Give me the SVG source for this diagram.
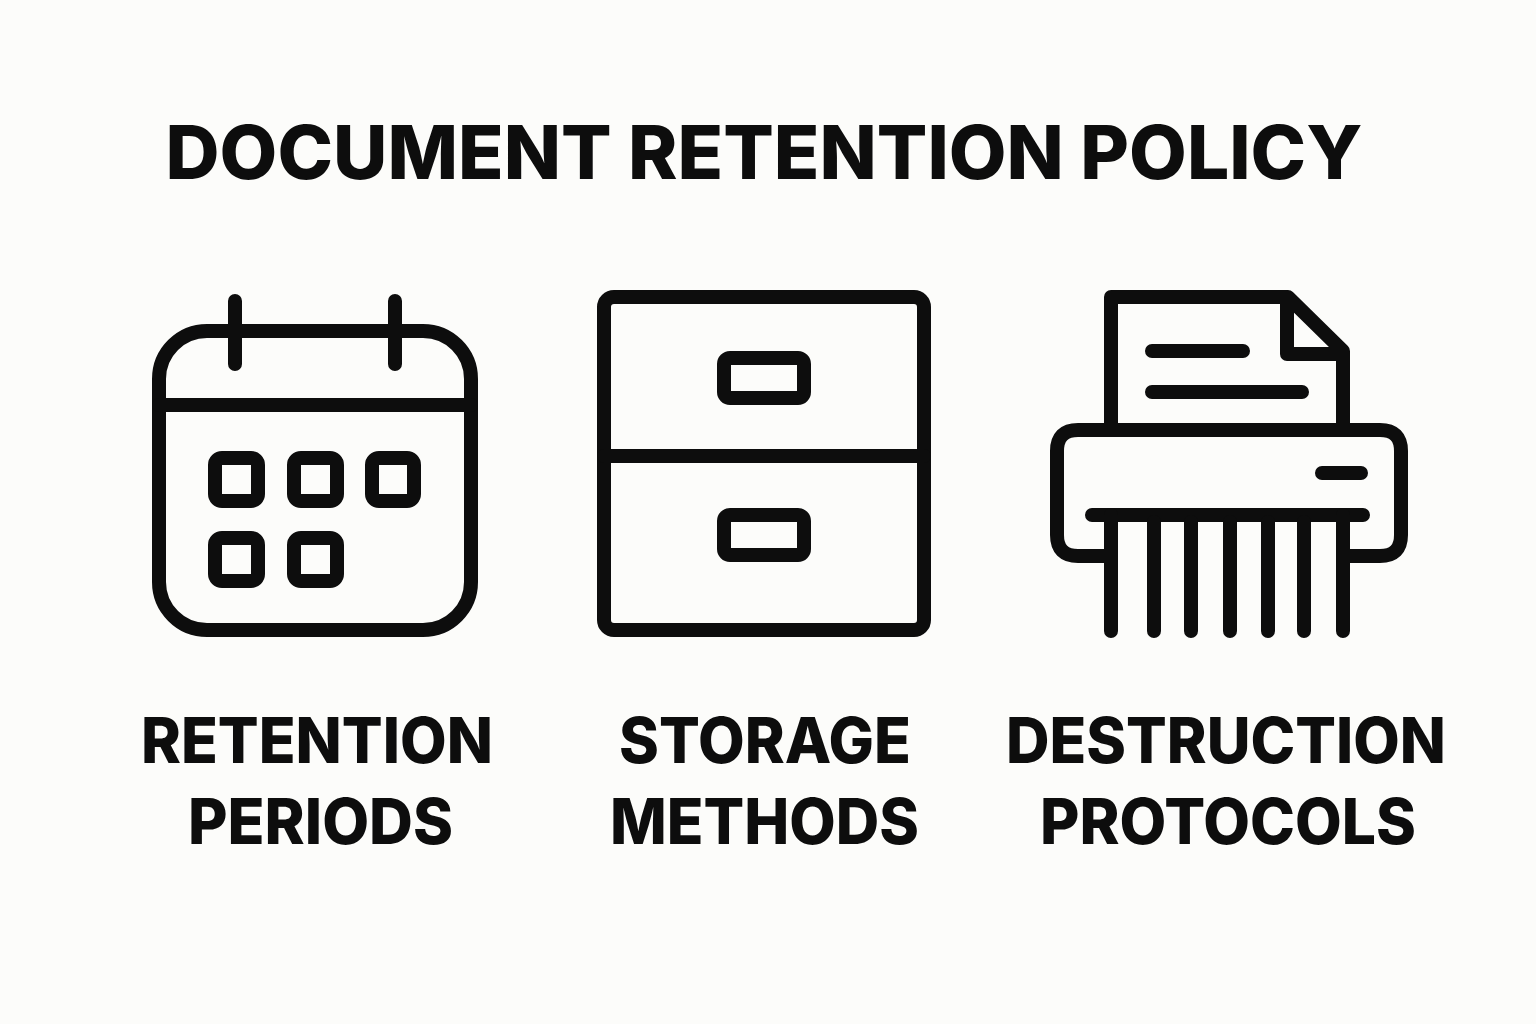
<svg xmlns="http://www.w3.org/2000/svg" width="1536" height="1024" viewBox="0 0 1536 1024">
<style>
.l{fill:none;stroke:#0d0d0d;stroke-width:14;stroke-linecap:round;stroke-linejoin:round}
.t{font-family:"Inter","Liberation Sans",sans-serif;font-weight:800;fill:#0d0d0d;text-anchor:middle}
.c{font-size:63px}
</style>
<rect width="1536" height="1024" fill="#fcfcfa"/>
<text class="t" x="764" y="179" font-size="74" textLength="1197" lengthAdjust="spacingAndGlyphs">DOCUMENT RETENTION POLICY</text>
<g id="calendar">
<rect class="l" x="159" y="331" width="312" height="299" rx="48"/>
<path class="l" d="M159 405H471M235 301V364M395 301V364"/>
<rect class="l" x="215" y="458" width="43" height="43" rx="7"/>
<rect class="l" x="294" y="458" width="43" height="43" rx="7"/>
<rect class="l" x="372" y="458" width="42" height="43" rx="7"/>
<rect class="l" x="215" y="538" width="43" height="43" rx="7"/>
<rect class="l" x="294" y="538" width="43" height="43" rx="7"/>
<text class="t c" x="317" y="763" textLength="352" lengthAdjust="spacingAndGlyphs">RETENTION</text>
<text class="t c" x="320.5" y="844" textLength="265" lengthAdjust="spacingAndGlyphs">PERIODS</text>
</g>
<g id="cabinet">
<rect class="l" x="604" y="297" width="320" height="333" rx="10"/>
<path class="l" d="M604 456H924"/>
<rect class="l" x="724" y="358" width="80" height="40" rx="6"/>
<rect class="l" x="724" y="515" width="80" height="40" rx="6"/>
<text class="t c" x="765" y="763" textLength="292" lengthAdjust="spacingAndGlyphs">STORAGE</text>
<text class="t c" x="764.5" y="844" textLength="309" lengthAdjust="spacingAndGlyphs">METHODS</text>
</g>
<g id="shredder">
<path class="l" d="M1111 424V297H1288L1343 351V424M1287 297V354H1343"/>
<path class="l" d="M1152 351H1243M1152 392H1302"/>
<path class="l" d="M1105 556H1078Q1057 556 1057 535V451Q1057 430 1078 430H1380Q1401 430 1401 451V535Q1401 556 1380 556H1350"/>
<path class="l" d="M1322 473H1361M1092 515H1363"/>
<path class="l" d="M1111 515V631M1154 522V631M1191 522V631M1230 522V631M1268 522V631M1304 522V631M1343 515V631"/>
<text class="t c" x="1226" y="763" textLength="440" lengthAdjust="spacingAndGlyphs">DESTRUCTION</text>
<text class="t c" x="1228" y="844" textLength="376" lengthAdjust="spacingAndGlyphs">PROTOCOLS</text>
</g>
<g id="connectors"/>
</svg>
